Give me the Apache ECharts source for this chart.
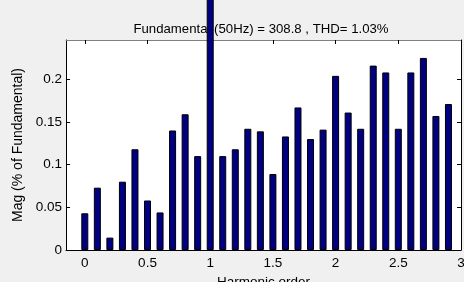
<!DOCTYPE html>
<html>
<head>
<meta charset="utf-8">
<script src="https://cdn.jsdelivr.net/npm/echarts@6/dist/echarts.min.js"></script>
<style>
  html, body { margin: 0; padding: 0; background: #f0f0f0; }
  #chart { width: 464px; height: 282px; }
</style>
</head>
<body>
<div id="chart"></div>
<script>
// harmonic spectrum, % of fundamental
const orders = [0, 0.1, 0.2, 0.3, 0.4, 0.5, 0.6, 0.7, 0.8, 0.9,
  1.0, 1.1, 1.2, 1.3, 1.4, 1.5, 1.6, 1.7, 1.8, 1.9,
  2.0, 2.1, 2.2, 2.3, 2.4, 2.5, 2.6, 2.7, 2.8, 2.9];
const mags = [0.043, 0.073, 0.0145, 0.080, 0.118, 0.058, 0.044, 0.140, 0.159, 0.110,
  100, 0.110, 0.118, 0.142, 0.139, 0.089, 0.133, 0.167, 0.130, 0.141,
  0.204, 0.161, 0.142, 0.216, 0.208, 0.142, 0.208, 0.225, 0.157, 0.171];
const xTicks = [0, 0.5, 1, 1.5, 2, 2.5, 3];
const yTicks = [0, 0.05, 0.1, 0.15, 0.2];
const titleText = 'Fundamental (50Hz) = 308.8 , THD= 1.03%';

const chart = echarts.init(document.getElementById('chart'));
const font = 'Liberation Sans, Arial, sans-serif';

const xBase = {
  type: 'value', min: -0.15, max: 3,
  splitLine: { show: false },
  axisTick: { inside: true, length: 4, customValues: xTicks, lineStyle: { color: '#000' } }
};
const yBase = {
  type: 'value', min: 0, max: 0.246,
  splitLine: { show: false },
  axisTick: { inside: true, length: 4, customValues: yTicks, lineStyle: { color: '#000' } }
};

chart.setOption({
  backgroundColor: '#f0f0f0',
  animation: false,
  title: {
    text: titleText, left: 256, top: 18, textAlign: 'center',
    textStyle: { fontFamily: font, fontSize: 13.2, fontWeight: 'normal', color: '#000' }
  },
  grid: {
    left: 66, top: 40, right: 3, bottom: 32,
    outerBoundsMode: 'none', containLabel: false,
    show: true, backgroundColor: '#fff', borderWidth: 0
  },
  xAxis: [
    Object.assign({}, xBase, {
      position: 'bottom',
      name: 'Harmonic order', nameLocation: 'middle', nameGap: 24,
      nameTextStyle: { fontFamily: font, fontSize: 13.5, color: '#000' },
      axisLine: { onZero: false, lineStyle: { color: '#000' } },
      axisLabel: { customValues: xTicks, margin: 6, fontFamily: font, fontSize: 13.5, color: '#000' }
    }),
    Object.assign({}, xBase, {
      position: 'top',
      axisLine: { onZero: false, lineStyle: { color: '#808080' } },
      axisLabel: { show: false }
    })
  ],
  yAxis: [
    Object.assign({}, yBase, {
      position: 'left',
      name: 'Mag (% of Fundamental)', nameLocation: 'middle', nameGap: 35,
      nameTextStyle: { fontFamily: font, fontSize: 14, color: '#000' },
      axisLine: { show: true, onZero: false, lineStyle: { color: '#000' } },
      axisLabel: { customValues: yTicks, margin: 4, fontFamily: font, fontSize: 13.5, color: '#000' }
    }),
    Object.assign({}, yBase, {
      position: 'right',
      axisLine: { show: true, onZero: false, lineStyle: { color: '#000' } },
      axisLabel: { show: false }
    })
  ],
  series: [{
    type: 'bar',
    xAxisIndex: 0, yAxisIndex: 0,
    clip: false,
    z: 10,
    barWidth: 7,
    itemStyle: { color: '#000080', borderColor: '#000', borderWidth: 1 },
    data: orders.map((o, i) => [o, mags[i]])
  }]
});
</script>
</body>
</html>
